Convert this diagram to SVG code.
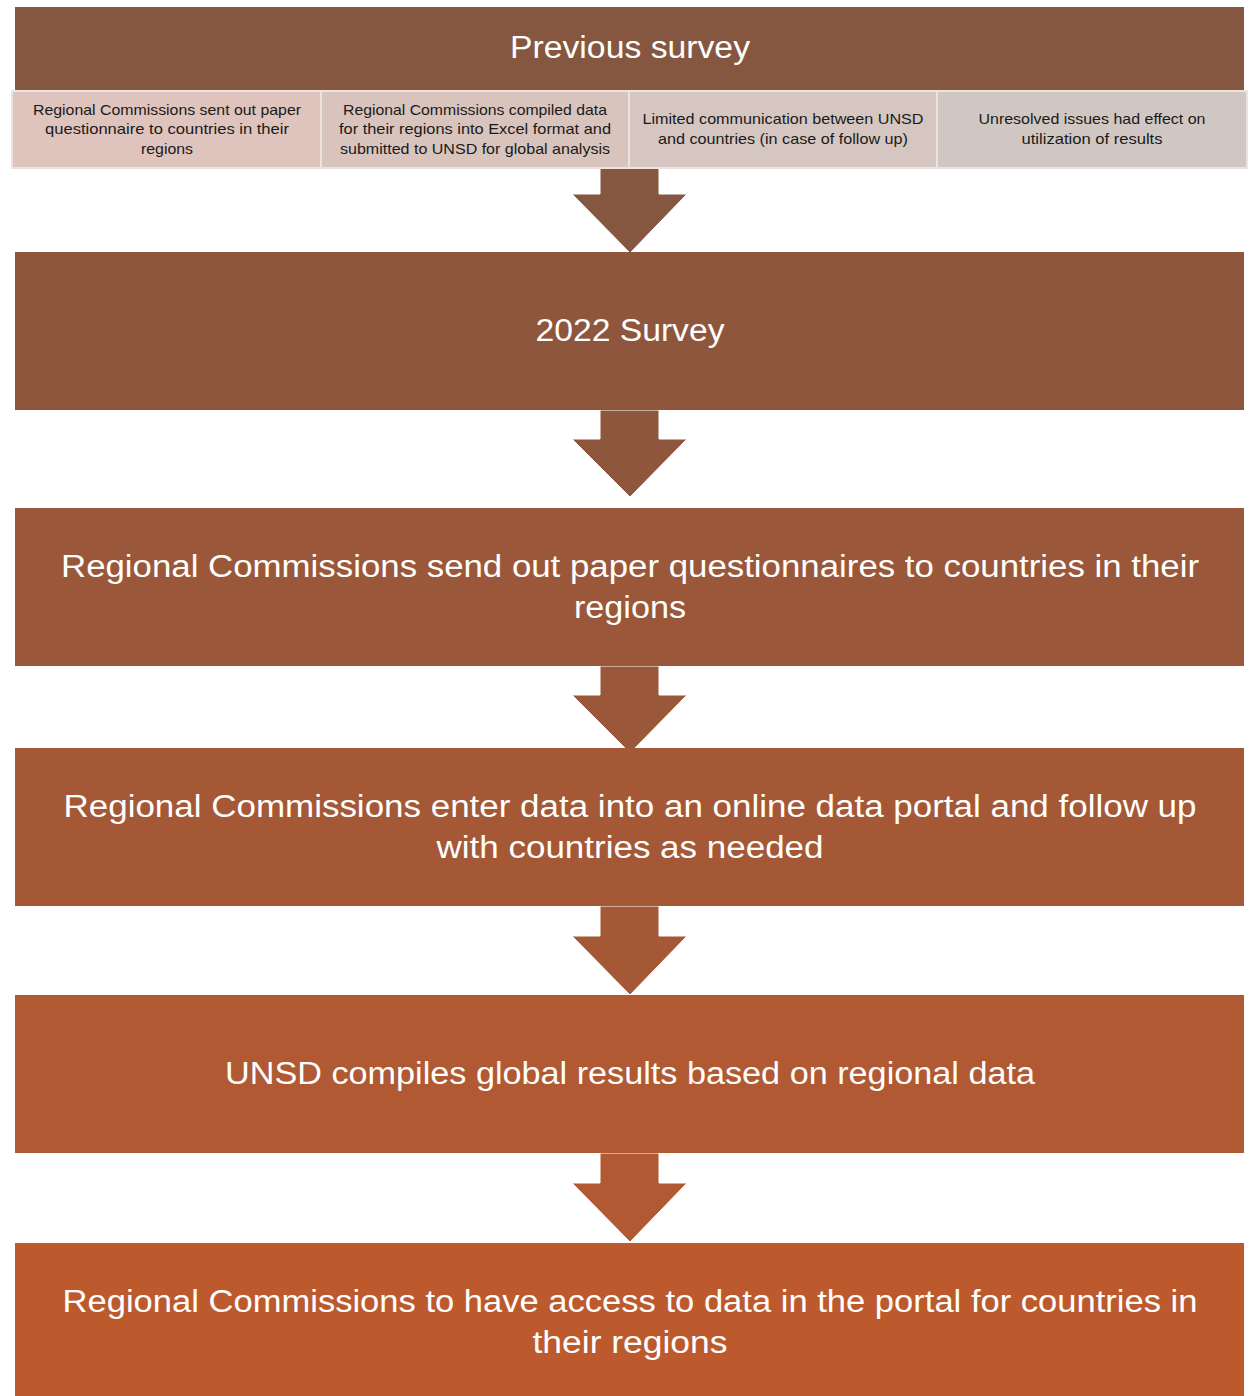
<svg xmlns="http://www.w3.org/2000/svg" width="1251" height="1396" viewBox="0 0 1251 1396">
<style>
.big{font-family:"Liberation Sans",Arial,sans-serif;font-size:31px;fill:#ffffff;text-anchor:middle}
.sm{font-family:"Liberation Sans",Arial,sans-serif;font-size:14.5px;fill:#1a1a1a;text-anchor:middle}
.cell{stroke:#ebe3e0;stroke-width:2}
.arr{stroke:#ffffff;stroke-width:1}
</style>
<rect width="1251" height="1396" fill="#ffffff"/>
<g id="connectors">
<polygon class="arr" fill="#865740" points="600,168 659,168 659,194 687,194 630,253 572,194 600,194"/>
<polygon class="arr" fill="#8e563d" points="600,410 659,410 659,439 687,439 630,497 572,439 600,439"/>
<polygon class="arr" fill="#9a5739" points="600,666 659,666 659,695 687,695 630,753 572,695 600,695"/>
<polygon class="arr" fill="#a55835" points="600,906 659,906 659,936 687,936 630,995 572,936 600,936"/>
<polygon class="arr" fill="#b05933" points="600,1153 659,1153 659,1183 687,1183 630,1242 572,1183 600,1183"/>
</g>
<g id="previous">
<rect x="15" y="7" width="1229" height="85" fill="#865740"/>
<text class="big" x="630" y="58" textLength="240" lengthAdjust="spacingAndGlyphs">Previous survey</text>
</g>
<g id="cell1">
<rect class="cell" x="12" y="91" width="309" height="77" fill="#dfc3bd"/>
<text class="sm" x="167" y="115" textLength="268" lengthAdjust="spacingAndGlyphs">Regional Commissions sent out paper</text>
<text class="sm" x="167" y="134" textLength="244" lengthAdjust="spacingAndGlyphs">questionnaire to countries in their</text>
<text class="sm" x="167" y="154" textLength="52" lengthAdjust="spacingAndGlyphs">regions</text>
</g>
<g id="cell2">
<rect class="cell" x="321" y="91" width="308" height="77" fill="#d9c4bd"/>
<text class="sm" x="475" y="115" textLength="264" lengthAdjust="spacingAndGlyphs">Regional Commissions compiled data</text>
<text class="sm" x="475" y="134" textLength="272" lengthAdjust="spacingAndGlyphs">for their regions into Excel format and</text>
<text class="sm" x="475" y="154" textLength="270" lengthAdjust="spacingAndGlyphs">submitted to UNSD for global analysis</text>
</g>
<g id="cell3">
<rect class="cell" x="629" y="91" width="308" height="77" fill="#d5c6c1"/>
<text class="sm" x="783" y="124" textLength="281" lengthAdjust="spacingAndGlyphs">Limited communication between UNSD</text>
<text class="sm" x="783" y="144" textLength="250" lengthAdjust="spacingAndGlyphs">and countries (in case of follow up)</text>
</g>
<g id="cell4">
<rect class="cell" x="937" y="91" width="310" height="77" fill="#d1c7c2"/>
<text class="sm" x="1092" y="124" textLength="227" lengthAdjust="spacingAndGlyphs">Unresolved issues had effect on</text>
<text class="sm" x="1092" y="144" textLength="141" lengthAdjust="spacingAndGlyphs">utilization of results</text>
</g>
<g id="survey2022">
<rect x="15" y="252" width="1229" height="158" fill="#8e563d"/>
<text class="big" x="630" y="341" textLength="189" lengthAdjust="spacingAndGlyphs">2022 Survey</text>
</g>
<g id="step1">
<rect x="15" y="508" width="1229" height="158" fill="#9a5739"/>
<text class="big" x="630" y="577" textLength="1138" lengthAdjust="spacingAndGlyphs">Regional Commissions send out paper questionnaires to countries in their</text>
<text class="big" x="630" y="618" textLength="112" lengthAdjust="spacingAndGlyphs">regions</text>
</g>
<g id="step2">
<rect x="15" y="748" width="1229" height="158" fill="#a55835"/>
<text class="big" x="630" y="817" textLength="1133" lengthAdjust="spacingAndGlyphs">Regional Commissions enter data into an online data portal and follow up</text>
<text class="big" x="630" y="858" textLength="387" lengthAdjust="spacingAndGlyphs">with countries as needed</text>
</g>
<g id="step3">
<rect x="15" y="995" width="1229" height="158" fill="#b05933"/>
<text class="big" x="630" y="1084" textLength="810" lengthAdjust="spacingAndGlyphs">UNSD compiles global results based on regional data</text>
</g>
<g id="step4">
<rect x="15" y="1243" width="1229" height="153" fill="#bc5a2e"/>
<text class="big" x="630" y="1312" textLength="1135" lengthAdjust="spacingAndGlyphs">Regional Commissions to have access to data in the portal for countries in</text>
<text class="big" x="630" y="1353" textLength="195" lengthAdjust="spacingAndGlyphs">their regions</text>
</g>
</svg>
